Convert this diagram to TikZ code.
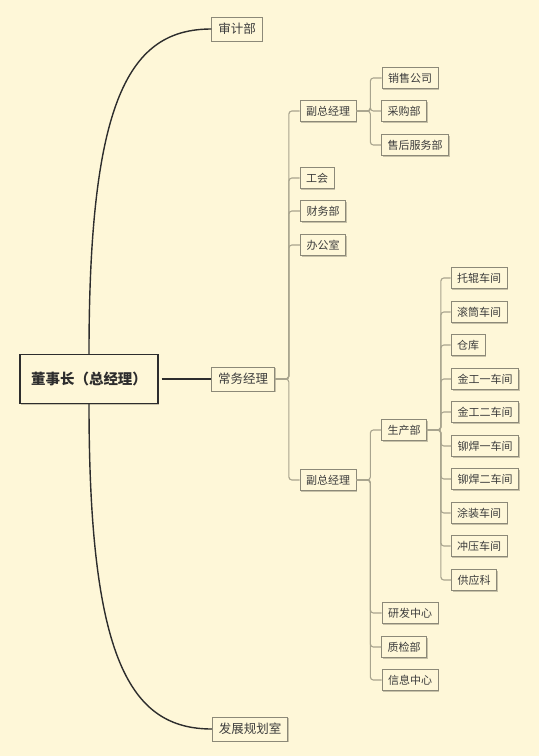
\documentclass[tikz,border=0pt]{standalone}
\usepackage{fontspec}
\setmainfont{Noto Sans CJK SC}
\usetikzlibrary{shadows}
\definecolor{bg}{RGB}{254,247,216}
\definecolor{txt}{RGB}{60,60,60}
\definecolor{bord}{RGB}{140,137,120}
\definecolor{conn}{RGB}{168,164,142}
\definecolor{shad}{RGB}{200,194,168}
\definecolor{root}{RGB}{45,45,45}
\begin{document}
\begin{tikzpicture}[x=1pt,y=-1pt,
  box/.style={draw=bord,line width=0.7pt,fill=bg,text=txt,inner xsep=6pt,inner ysep=0pt,
    minimum height=21pt,font=\fontsize{11}{11}\selectfont,
    drop shadow={shadow xshift=1pt,shadow yshift=-1pt,fill=shad,opacity=1}},
  topbox/.style={box,minimum height=24pt,inner xsep=6.5pt,font=\fontsize{12.5}{12.5}\selectfont},
  rootbox/.style={draw=root,line width=1.2pt,fill=bg,text=root,minimum width=138pt,minimum height=49pt,
    font=\fontsize{14.5}{14.5}\selectfont\bfseries,
    drop shadow={shadow xshift=1pt,shadow yshift=-1pt,fill=shad,opacity=1}},
  curve/.style={draw=root,line width=1.4pt},
  link/.style={draw=conn,line width=1.1pt,rounded corners=3pt}]
\fill[bg] (0,0) rectangle (539,756);
\useasboundingbox (0,0) rectangle (539,756);

\node[rootbox] (r) at (89,379) {董事长（总经理）};
\node[topbox] (a) at (237,29) {审计部};
\node[topbox] (b) at (243,379) {常务经理};
\node[topbox] (c) at (250,729) {发展规划室};

\node[box] (b1) at (328,111) {副总经理};
\node[box] (b2) at (317,178) {工会};
\node[box] (b3) at (323,211) {财务部};
\node[box] (b4) at (323,245) {办公室};
\node[box] (b5) at (328,480) {副总经理};

\node[box] (s1) at (410,78) {销售公司};
\node[box] (s2) at (404,111) {采购部};
\node[box] (s3) at (415,145) {售后服务部};

\node[box] (p1) at (404,430) {生产部};
\node[box] (p2) at (410,613) {研发中心};
\node[box] (p3) at (404,647) {质检部};
\node[box] (p4) at (410,680) {信息中心};

\node[box] (w1) at (479,278) {托辊车间};
\node[box] (w2) at (479,312) {滚筒车间};
\node[box] (w3) at (468,345) {仓库};
\node[box] (w4) at (485,379) {金工一车间};
\node[box] (w5) at (485,412) {金工二车间};
\node[box] (w6) at (485,446) {铆焊一车间};
\node[box] (w7) at (485,479) {铆焊二车间};
\node[box] (w8) at (479,513) {涂装车间};
\node[box] (w9) at (479,546) {冲压车间};
\node[box] (w10) at (474,580) {供应科};

\draw[curve] (r.north) .. controls +(0,-255) and +(-82,0) .. (a.west);
\draw[curve] (r.south) .. controls +(0,255) and +(-82,0) .. (c.west);
\draw[curve] ([xshift=3pt]r.east) -- (b.west);

\foreach \c in {b1,b2,b3,b4,b5}
  \draw[link] (b.east) -- ([xshift=14pt]b.east) |- (\c.west);
\foreach \c in {s1,s2,s3}
  \draw[link] (b1.east) -- ([xshift=14pt]b1.east) |- (\c.west);
\foreach \c in {p1,p2,p3,p4}
  \draw[link] (b5.east) -- ([xshift=14pt]b5.east) |- (\c.west);
\foreach \c in {w1,w2,w3,w4,w5,w6,w7,w8,w9,w10}
  \draw[link] (p1.east) -- ([xshift=14pt]p1.east) |- (\c.west);
\end{tikzpicture}
\end{document}
